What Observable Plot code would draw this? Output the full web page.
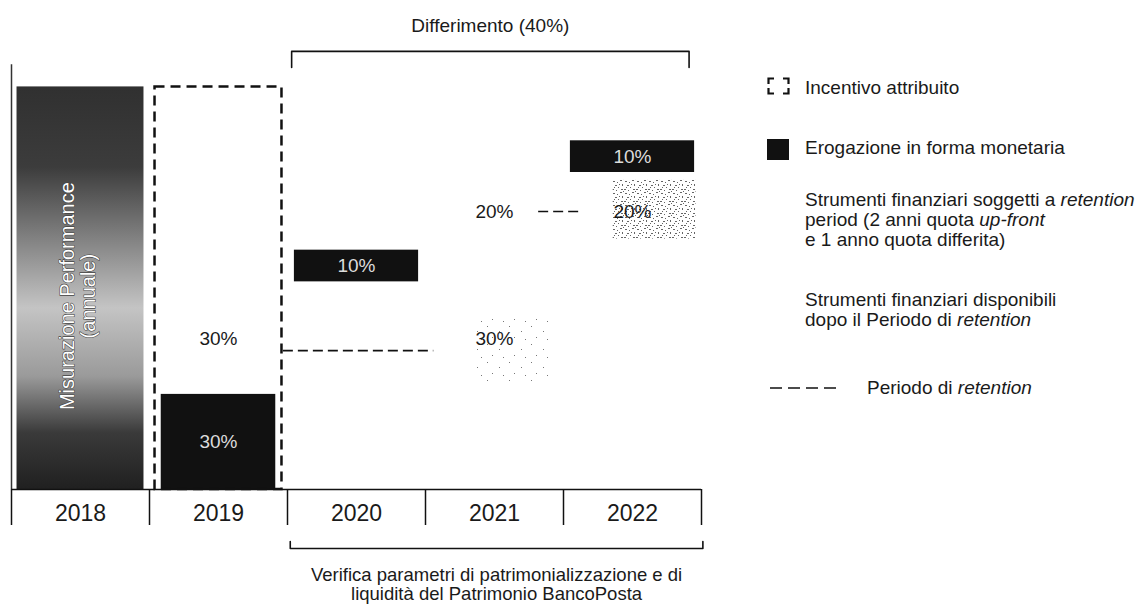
<!DOCTYPE html>
<html><head><meta charset="utf-8">
<script src="https://cdn.jsdelivr.net/npm/d3@7"></script>
<script src="https://cdn.jsdelivr.net/npm/@observablehq/plot@0.6"></script>
<style>
html,body{margin:0;padding:0;background:#fff;}
#wrap{position:relative;width:1142px;height:605px;overflow:hidden;font-family:"Liberation Sans",Arial,sans-serif;color:#1a1a1a;}
#chart{position:absolute;left:0;top:0;}
.leg{position:absolute;font-size:19px;line-height:20px;white-space:nowrap;color:#1a1a1a;}
.sw{position:absolute;}
</style></head><body>
<div id="wrap"><div id="chart"></div><div id="legend"></div></div>
<script>
// ---- data ----
const years = [2018, 2019, 2020, 2021, 2022];
const performanceLabel = "Misurazione Performance\n(annuale)";
const performanceYear = 2018;
const incentiveYear = 2019;
const incentiveLevel = 127;            // schematic height of 2018 bar / 2019 incentive box
const cashYears = [2019, 2020, 2022];
const cashShares = [30, 10, 10];
const cashBase = [0, 65.5, 100];
const instrYears = [2019, 2021, 2021, 2022];
const instrShares = [30, 30, 20, 20];
const instrLevels = [47.6, 47.6, 87.7, 87.7];
const retentionFrom = [2019.47, 2021.32];
const retentionTo = [2020.56, 2021.64];
const retentionLevel = [43.8, 87.7];
const speckFrom = [2021.86, 2020.85];
const speckTo = [2022.46, 2021.40];
const speckLow = [79, 34];
const speckHigh = [97.5, 55];
const speckKind = ["dense", "sparse"];
const deferralYears = [2020, 2022];
const deferralLabel = "Differimento (40%)";
const verificationLabel = "Verifica parametri di patrimonializzazione e di\nliquidità del Patrimonio BancoPosta";
const legendLabels = [
  "Incentivo attribuito",
  "Erogazione in forma monetaria",
  "Strumenti finanziari soggetti a <i>retention</i><br>period (2 anni quota <i>up-front</i><br>e 1 anno quota differita)",
  "Strumenti finanziari disponibili<br>dopo il Periodo di <i>retention</i>",
  "Periodo di <i>retention</i>"
];

// ---- tables built from arrays ----
const cash = cashYears.map((year, i) => ({year, share: cashShares[i], base: cashBase[i]}));
const instr = instrYears.map((year, i) => ({year, share: instrShares[i], level: instrLevels[i]}));
const retention = retentionFrom.map((from, i) => ({from, to: retentionTo[i], level: retentionLevel[i]}));
const specks = speckFrom.map((from, i) => ({from, to: speckTo[i], lo: speckLow[i], hi: speckHigh[i], kind: speckKind[i]}));
const bounds = [...years.map(y => y - 0.5), years[years.length - 1] + 0.5];

const boxHalf = 0.46;
const cashHalf = d => d.year === incentiveYear ? 0.415 : 0.45;
const topBr = {x1: deferralYears[0] - 0.47, x2: deferralYears[1] + 0.41, y: 138.2, tick: 5.1};
const botBr = {x1: deferralYears[0] - 0.48, x2: deferralYears[1] + 0.51, y: -18.6, tick: -2.2};
const bracket = b => [
  {x: b.x1, y: b.y - b.tick}, {x: b.x1, y: b.y}, {x: b.x2, y: b.y}, {x: b.x2, y: b.y - b.tick}
];

const ink = "#1a1a1a";
const chart = Plot.plot({
  width: 730, height: 605,
  marginTop: 0, marginBottom: 116, marginLeft: 11, marginRight: 29,
  x: {domain: [bounds[0], bounds[bounds.length - 1]], range: [11, 701], axis: null},
  y: {domain: [0, 100], range: [489, 172], axis: null},
  style: {fontFamily: '"Liberation Sans", Arial, sans-serif', background: "white", color: ink, overflow: "visible"},
  marks: [
    // 2018 performance bar
    Plot.rect([performanceYear], {x1: d => d - boxHalf, x2: d => d + boxHalf, y1: 0, y2: incentiveLevel, fill: "url(#perfGrad)"}),
    Plot.ruleX([bounds[0]], {y1: 0, y2: incentiveLevel + 7, stroke: "#333", strokeWidth: 1.5}),
    Plot.text([performanceLabel], {x: performanceYear - 0.02, y: 61, text: d => d, rotate: -90, fontSize: 20, lineHeight: 1.05,
      fill: "white", stroke: "#444", strokeWidth: 1.2}),
    // speckled instrument areas
    Plot.rect(specks, {x1: "from", x2: "to", y1: "lo", y2: "hi", fill: d => `url(#speck-${d.kind})`}),
    // cash boxes
    Plot.rect(cash, {x1: d => d.year - cashHalf(d), x2: d => d.year + cashHalf(d), y1: "base", y2: d => d.base + d.share, fill: "#111"}),
    Plot.text(cash, {x: "year", y: d => d.base + d.share / 2, text: d => d.share + "%", fill: "#dcdcdc", fontSize: 19}),
    // incentive box (dashed)
    Plot.rect([incentiveYear], {x1: d => d - boxHalf, x2: d => d + boxHalf, y1: 0, y2: incentiveLevel,
      fill: "none", stroke: "#111", strokeWidth: 2.5, strokeDasharray: "10,6"}),
    // instrument labels
    Plot.text(instr, {x: "year", y: "level", text: d => d.share + "%", fill: ink, fontSize: 19}),
    // retention periods
    Plot.ruleY(retention, {x1: "from", x2: "to", y: "level", stroke: "#111", strokeWidth: 1.6, strokeDasharray: "10,5"}),
    // brackets
    Plot.line(bracket(topBr), {x: "x", y: "y", stroke: "#111", strokeWidth: 1.6}),
    Plot.text([deferralLabel], {x: (topBr.x1 + topBr.x2) / 2, y: 146.1, text: d => d, fontSize: 19, fill: ink}),
    Plot.line(bracket(botBr), {x: "x", y: "y", stroke: "#111", strokeWidth: 1.6}),
    Plot.text([verificationLabel], {x: (botBr.x1 + botBr.x2) / 2, y: -29.9, text: d => d, fontSize: 18.5, lineHeight: 1.03, fill: ink}),
    // years row
    Plot.ruleY([0], {x1: bounds[0], x2: bounds[bounds.length - 1], stroke: "#111", strokeWidth: 1.6}),
    Plot.axisX(bounds, {anchor: "bottom", tickSize: 36, tickFormat: () => "", stroke: "#111", strokeWidth: 1.5, label: null}),
    Plot.axisX(years, {anchor: "bottom", tickSize: 0, tickPadding: 15, fontSize: 23, tickFormat: d => String(d), fill: ink, label: null})
  ]
});

// gradient & textures
const svg = d3.select(chart);
const defs = svg.insert("defs", ":first-child");
const g = defs.append("linearGradient").attr("id", "perfGrad").attr("x1", 0).attr("y1", 0).attr("x2", 0).attr("y2", 1);
[[0, "#303030"], [0.2, "#3c3c3c"], [0.4, "#8a8a8a"], [0.55, "#c4c4c4"], [0.72, "#9a9a9a"], [0.86, "#3a3a3a"], [1, "#202020"]]
  .forEach(([o, c]) => g.append("stop").attr("offset", o).attr("stop-color", c));
const dense = defs.append("pattern").attr("id", "speck-dense").attr("patternUnits", "userSpaceOnUse").attr("width", 12).attr("height", 12);
[[1,1,2,1],[5,2,1,1],[8,0,2,1],[10,4,1,2],[3,5,2,1],[6,7,1,1],[0,9,2,1],[9,9,2,1],[4,10,1,1],[7,4,1,1],[2,7,1,1],[11,11,1,1]]
  .forEach(([px, py, w, h]) => dense.append("rect").attr("x", px).attr("y", py).attr("width", w).attr("height", h).attr("fill", "#666"));
const sparse = defs.append("pattern").attr("id", "speck-sparse").attr("patternUnits", "userSpaceOnUse").attr("width", 22).attr("height", 18);
[[3,2],[15,7],[8,13],[19,15]]
  .forEach(([px, py]) => sparse.append("rect").attr("x", px).attr("y", py).attr("width", 1).attr("height", 1).attr("fill", "#777"));

document.getElementById("chart").append(chart);

// legend
const legend = document.getElementById("legend");
const items = [
  {top: 78, sw: "corners"}, {top: 138, sw: "solid"}, {top: 190, sw: null}, {top: 290, sw: null}, {top: 378, sw: "dash"}
];
items.forEach((it, i) => {
  const div = document.createElement("div");
  div.className = "leg";
  div.style.left = (it.sw === "dash" ? 867 : 805) + "px";
  div.style.top = it.top + "px";
  div.innerHTML = legendLabels[i];
  legend.append(div);
  if (it.sw) {
    const s = d3.create("svg").attr("class", "sw").attr("width", 70).attr("height", 24)
      .style("left", (it.sw === "dash" ? 770 : 767) + "px").style("top", (it.top - 1) + "px");
    if (it.sw === "corners") {
      s.append("path").attr("d", "M1.5,7V1.5H7 M16,1.5H21.5V7 M1.5,11V16.5H7 M16,16.5H21.5V11")
        .attr("fill", "none").attr("stroke", "#111").attr("stroke-width", 2.2);
    } else if (it.sw === "solid") {
      s.append("rect").attr("x", 0).attr("y", 2).attr("width", 22).attr("height", 21).attr("fill", "#111");
    } else {
      s.append("line").attr("x1", 0).attr("x2", 68).attr("y1", 11).attr("y2", 11)
        .attr("stroke", "#111").attr("stroke-width", 1.6).attr("stroke-dasharray", "12,6");
    }
    legend.append(s.node());
  }
});
</script>
</body></html>
